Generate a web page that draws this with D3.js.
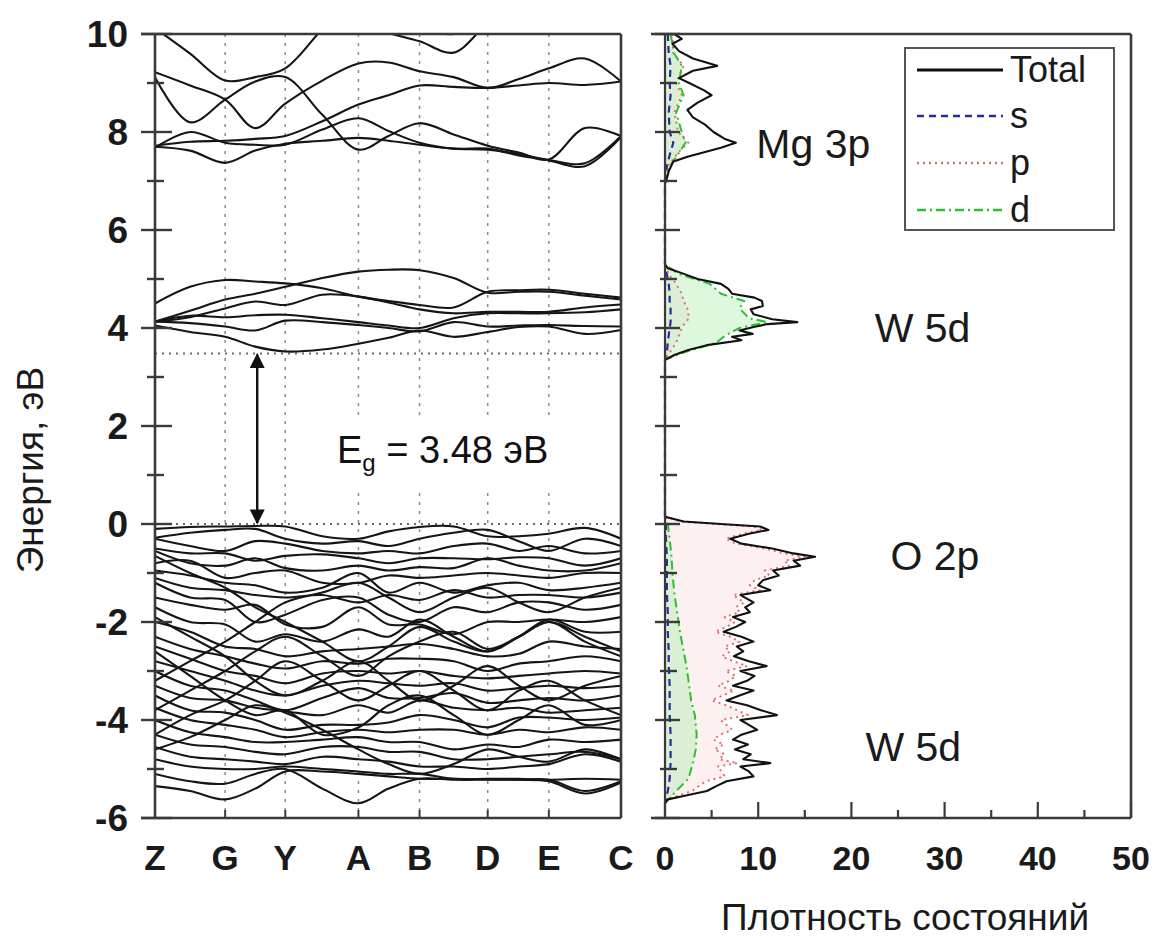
<!DOCTYPE html>
<html>
<head>
<meta charset="utf-8">
<script src="https://cdn.jsdelivr.net/npm/d3@7"></script>
<style>
  html, body { margin: 0; padding: 0; background: #fff; }
  svg { display: block; font-family: "Liberation Sans", Arial, sans-serif; }
</style>
</head>
<body>
<svg id="chart" width="1160" height="938"></svg>
<script>
// ---- k-path (band structure) ----
const kLabels = ["Z", "G", "Y", "A", "B", "D", "E", "C"];
const kLabelPos = [0, 70, 130, 203, 264, 332, 393, 465];
const kSamples = [0, 35, 70, 100, 130, 167, 203, 233, 264, 298, 332, 363, 393, 429, 465];

// Energies (eV) at kSamples
const upperConduction = [
  [7.70, 7.62, 7.37, 7.62, 7.76, 7.82, 7.88, 7.82, 7.74, 7.66, 7.64, 7.55, 7.42, 7.30, 7.90],
  [7.68, 8.00, 7.78, 7.74, 7.74, 8.05, 8.28, 8.02, 7.78, 7.66, 7.66, 7.52, 7.43, 7.36, 7.92],
  [7.72, 7.80, 7.82, 7.86, 7.92, 8.22, 8.56, 8.75, 8.95, 8.92, 8.90, 8.95, 9.00, 8.96, 9.03],
  [9.22, 8.95, 8.66, 8.08, 8.58, 9.05, 9.40, 9.42, 9.24, 9.12, 8.90, 9.08, 9.30, 9.50, 9.03],
  [9.12, 8.20, 8.66, 9.03, 9.12, 8.35, 7.64, 7.92, 8.18, 7.95, 7.72, 7.58, 7.44, 8.08, 7.92],
  [10.12, 9.60, 9.05, 9.12, 9.30, 10.10, 10.80, 10.90, 10.90, 10.80, 10.80, 10.80, 10.80, 10.80, 10.80],
  [10.60, 10.60, 10.50, 10.40, 10.30, 10.25, 10.20, 10.02, 9.85, 9.62, 10.20, 10.50, 10.60, 10.60, 10.60],
  [10.70, 10.70, 10.60, 10.50, 10.40, 10.30, 10.25, 10.04, 10.08, 10.00, 10.30, 10.60, 10.70, 10.70, 10.70]
];
const lowerConduction = [
  [4.05, 3.92, 3.82, 3.62, 3.52, 3.56, 3.68, 3.80, 3.95, 3.82, 3.92, 4.02, 4.03, 3.88, 3.96],
  [4.13, 4.10, 4.03, 3.95, 4.15, 4.12, 4.06, 4.00, 3.93, 4.12, 4.03, 4.05, 4.06, 4.04, 4.03],
  [4.13, 4.25, 4.22, 4.26, 4.27, 4.20, 4.12, 4.05, 4.00, 4.20, 4.30, 4.30, 4.30, 4.32, 4.38],
  [4.13, 4.22, 4.40, 4.54, 4.47, 4.68, 4.64, 4.52, 4.38, 4.30, 4.33, 4.33, 4.33, 4.42, 4.48],
  [4.50, 4.84, 4.98, 4.95, 4.91, 4.81, 4.64, 4.55, 4.47, 4.42, 4.74, 4.77, 4.78, 4.70, 4.62],
  [4.13, 4.35, 4.58, 4.70, 4.84, 5.02, 5.15, 5.19, 5.18, 5.02, 4.72, 4.74, 4.74, 4.66, 4.58]
];
const valence = [
  [-0.10, -0.06, -0.05, -0.04, -0.05, -0.25, -0.30, -0.15, -0.06, -0.05, -0.25, -0.25, -0.20, -0.08, -0.30],
  [-0.28, -0.18, -0.12, -0.10, -0.30, -0.40, -0.35, -0.45, -0.30, -0.18, -0.12, -0.35, -0.55, -0.30, -0.45],
  [-0.30, -0.45, -0.55, -0.35, -0.40, -0.55, -0.60, -0.55, -0.60, -0.45, -0.40, -0.55, -0.45, -0.60, -0.55],
  [-0.50, -0.60, -0.60, -0.75, -0.65, -0.62, -0.70, -0.80, -0.70, -0.70, -0.72, -0.68, -0.70, -0.85, -0.70],
  [-0.55, -0.80, -0.85, -0.70, -0.90, -0.95, -0.85, -0.95, -0.88, -0.90, -0.70, -0.85, -0.95, -0.95, -0.80],
  [-0.80, -0.75, -1.10, -1.00, -0.95, -1.20, -1.20, -1.05, -1.10, -1.05, -1.00, -1.05, -1.10, -1.00, -1.00],
  [-0.95, -1.05, -1.20, -1.25, -1.40, -1.30, -1.00, -1.40, -1.20, -1.40, -1.25, -1.20, -1.35, -1.30, -1.20],
  [-1.10, -1.30, -1.35, -1.45, -1.50, -1.45, -1.60, -1.45, -1.55, -1.35, -1.50, -1.45, -1.45, -1.50, -1.40],
  [-1.20, -1.50, -1.55, -2.00, -1.85, -1.55, -1.50, -1.85, -2.00, -1.70, -1.80, -1.60, -1.60, -1.75, -1.65],
  [-1.50, -1.65, -1.75, -1.65, -2.05, -2.10, -1.70, -2.05, -2.05, -2.25, -2.00, -2.00, -1.95, -2.00, -1.90],
  [-1.70, -2.00, -2.05, -2.40, -2.25, -2.40, -2.15, -2.30, -1.95, -2.30, -2.60, -2.30, -1.95, -2.20, -2.20],
  [-2.00, -2.20, -2.50, -2.55, -2.70, -2.60, -2.55, -2.50, -2.45, -2.55, -2.70, -2.65, -2.40, -2.50, -2.55],
  [-2.30, -2.55, -2.70, -2.85, -2.95, -2.80, -2.85, -2.75, -2.75, -2.80, -3.00, -2.85, -2.80, -2.70, -2.80],
  [-2.50, -2.75, -3.00, -3.10, -3.25, -3.05, -3.00, -3.05, -3.00, -3.10, -3.15, -3.10, -3.05, -3.00, -3.05],
  [-2.80, -3.00, -3.20, -3.40, -3.50, -3.30, -3.20, -3.25, -3.30, -3.25, -3.40, -3.35, -3.30, -3.35, -3.30],
  [-3.00, -3.30, -3.40, -3.60, -3.80, -3.55, -3.35, -3.55, -3.55, -3.45, -3.65, -3.60, -3.55, -3.60, -3.50],
  [-3.30, -3.55, -3.60, -3.75, -3.82, -3.90, -3.70, -3.85, -3.60, -3.75, -3.80, -3.75, -3.85, -3.80, -3.75],
  [-3.50, -3.80, -3.85, -4.00, -4.20, -4.10, -4.10, -4.05, -3.90, -4.00, -4.15, -3.95, -3.95, -4.00, -3.95],
  [-3.75, -4.00, -4.10, -4.20, -4.35, -4.25, -4.20, -4.25, -4.20, -4.20, -4.30, -4.20, -4.25, -4.15, -4.20],
  [-4.00, -4.25, -4.35, -4.45, -4.45, -4.40, -4.35, -4.45, -4.45, -4.60, -4.50, -4.55, -4.40, -4.45, -4.40],
  [-4.30, -4.50, -4.55, -4.65, -4.70, -4.55, -4.55, -4.65, -4.65, -4.80, -4.80, -4.75, -4.70, -4.65, -4.80],
  [-4.55, -4.75, -4.80, -4.85, -4.90, -4.75, -4.80, -4.85, -4.95, -4.95, -5.00, -4.95, -4.90, -4.70, -4.85],
  [-4.80, -4.95, -5.00, -5.00, -4.95, -5.00, -5.05, -5.10, -5.10, -5.20, -5.20, -5.20, -5.22, -5.20, -5.22],
  [-5.10, -5.25, -5.30, -5.10, -5.00, -5.40, -5.70, -5.40, -5.20, -5.22, -5.22, -5.22, -5.22, -5.45, -5.25],
  [-5.35, -5.45, -5.62, -5.40, -5.05, -5.05, -5.10, -5.15, -5.20, -5.20, -5.21, -5.22, -5.25, -5.50, -5.28],
  [-0.65, -1.00, -1.30, -1.70, -2.00, -2.40, -2.80, -2.50, -2.10, -2.40, -2.60, -2.30, -2.00, -2.40, -2.70],
  [-3.20, -2.80, -2.40, -2.00, -1.60, -1.40, -1.20, -1.50, -1.80, -1.50, -1.30, -1.60, -1.80, -1.50, -1.30],
  [-4.30, -3.90, -3.60, -3.20, -2.80, -3.20, -3.60, -3.30, -3.00, -3.40, -3.80, -3.40, -3.20, -3.60, -3.90],
  [-2.60, -3.10, -3.60, -3.90, -3.80, -4.30, -4.15, -3.70, -3.50, -3.90, -4.30, -4.00, -3.70, -4.10, -4.00],
  [-1.90, -2.30, -2.70, -3.20, -3.50, -3.20, -2.80, -3.20, -3.60, -3.30, -2.90, -3.30, -3.60, -3.30, -3.10],
  [-3.80, -3.40, -3.00, -2.60, -2.30, -2.70, -3.10, -2.70, -2.40, -2.20, -2.55, -2.30, -2.00, -2.30, -2.60],
  [-4.60, -4.35, -4.00, -3.70, -3.85, -4.20, -4.60, -4.90, -5.10, -4.90, -4.60, -4.75, -4.85, -4.60, -4.80]
];

const gapBottom = 0;
const gapTop = 3.48;

// ---- density of states ----
const dosEnergy = [10.0, 9.9, 9.8, 9.65, 9.5, 9.35, 9.25, 9.1, 9.0, 8.85, 8.75, 8.6, 8.45, 8.3, 8.15, 8.0, 7.85, 7.78, 7.68, 7.6, 7.5, 7.4, 7.2, 7.05, 6.95,
  5.3, 5.22, 5.12, 5.0, 4.9, 4.8, 4.7, 4.62, 4.55, 4.45, 4.38, 4.28, 4.18, 4.12, 4.08, 4.02, 3.95, 3.88, 3.82, 3.75, 3.65, 3.55, 3.45, 3.35,
  0.15, 0.05, 0.0, -0.05, -0.12, -0.2, -0.3, -0.4, -0.5, -0.6, -0.67, -0.75, -0.85, -0.95, -1.05, -1.15, -1.25, -1.35, -1.45, -1.6, -1.7, -1.8, -1.9, -2.0,
  -2.1, -2.2, -2.3, -2.4, -2.5, -2.6, -2.7, -2.8, -2.9, -3.0, -3.1, -3.2, -3.3, -3.4, -3.5, -3.6, -3.7, -3.8, -3.9, -4.0, -4.1, -4.2, -4.3, -4.4, -4.5,
  -4.6, -4.7, -4.8, -4.88, -4.95, -5.05, -5.15, -5.25, -5.35, -5.45, -5.55, -5.62, -5.7];
const dosTotal = [1.0, 1.8, 0.8, 1.5, 3.0, 5.6, 3.0, 1.5, 2.6, 4.2, 5.0, 3.5, 2.4, 3.0, 4.3, 5.2, 6.5, 7.6, 6.0, 4.5, 2.5, 0.9, 0.4, 0.2, 0,
  0, 0.3, 1.8, 3.5, 6.0, 6.8, 7.2, 9.6, 10.4, 10.5, 9.2, 9.5, 11.5, 14.2, 11.0, 9.5, 8.0, 9.4, 7.2, 8.2, 4.5, 2.5, 1.0, 0,
  0, 2.0, 6.0, 10.2, 11.1, 9.0, 7.0, 8.2, 11.5, 13.8, 16.1, 13.8, 14.5, 11.6, 12.2, 10.5, 10.0, 11.3, 8.1, 9.5, 8.6, 9.1, 7.3, 8.6,
  7.6, 6.3, 8.2, 9.5, 7.7, 8.4, 7.4, 9.0, 10.9, 8.1, 9.6, 8.8, 7.3, 9.5, 8.0, 6.6, 8.8, 10.3, 12.0, 8.1, 9.0, 9.9, 8.2, 7.3, 8.9,
  7.5, 9.2, 8.4, 11.3, 8.1, 9.0, 9.5, 6.6, 5.5, 4.5, 2.0, 0.3, 0];

// p-states: coarse in the conduction bands, fine in the O 2p valence band
const pEnergy = [10.0, 9.6, 9.35, 9.0, 8.75, 8.4, 8.0, 7.78, 7.6, 7.3, 6.95, 5.3, 5.1, 4.9, 4.7, 4.55, 4.4, 4.2, 4.12, 4.0, 3.85, 3.7, 3.5, 3.35,
  0.15, 0.05, 0.0, -0.05, -0.12, -0.2, -0.3, -0.4, -0.5, -0.6, -0.67, -0.75, -0.85, -0.95, -1.05, -1.15, -1.25, -1.35, -1.45, -1.6, -1.7, -1.8, -1.9, -2.0,
  -2.1, -2.2, -2.3, -2.4, -2.5, -2.6, -2.7, -2.8, -2.9, -3.0, -3.1, -3.2, -3.3, -3.4, -3.5, -3.6, -3.7, -3.8, -3.9, -4.0, -4.1, -4.2, -4.3, -4.4, -4.5,
  -4.6, -4.7, -4.8, -4.88, -4.95, -5.05, -5.15, -5.25, -5.35, -5.45, -5.55, -5.62, -5.7];
const dosP = [0.8, 0.9, 2.0, 1.2, 1.8, 1.0, 1.4, 2.5, 1.5, 0.3, 0, 0, 0.4, 1.2, 1.8, 2.0, 2.4, 2.6, 2.2, 1.8, 1.5, 1.2, 0.5, 0,
  0, 1.8, 5.5, 9.5, 10.4, 8.4, 6.5, 7.6, 10.7, 12.8, 15.0, 12.8, 13.4, 10.7, 11.2, 9.6, 9.1, 10.2, 7.3, 8.5, 7.6, 8.0, 6.4, 7.5,
  6.6, 5.4, 7.0, 8.0, 6.4, 7.0, 6.1, 7.3, 8.8, 6.5, 7.6, 6.9, 5.7, 7.4, 6.2, 5.0, 6.6, 7.7, 8.9, 6.0, 6.6, 7.2, 5.9, 5.2, 6.3,
  5.3, 6.4, 5.8, 7.8, 5.6, 6.1, 6.4, 4.4, 3.6, 2.9, 1.3, 0.2, 0];

const sdEnergy = [10.0, 9.6, 9.35, 9.0, 8.75, 8.4, 8.0, 7.78, 7.6, 7.3, 6.95, 5.3, 5.1, 4.9, 4.7, 4.55, 4.4, 4.2, 4.12, 4.0, 3.85, 3.7, 3.5, 3.35,
  0.15, 0.0, -0.3, -0.67, -1.0, -1.4, -1.8, -2.2, -2.6, -2.9, -3.3, -3.6, -3.9, -4.3, -4.6, -4.88, -5.2, -5.45, -5.7];
const dosS = [0.3, 0.4, 0.6, 0.5, 0.6, 0.4, 0.5, 0.9, 0.6, 0.2, 0, 0, 0.2, 0.4, 0.5, 0.5, 0.6, 0.6, 0.6, 0.5, 0.4, 0.3, 0.2, 0,
  0, 0.1, 0.1, 0.2, 0.2, 0.2, 0.3, 0.3, 0.4, 0.4, 0.5, 0.5, 0.5, 0.6, 0.6, 0.6, 0.5, 0.3, 0];
const dosD = [0.6, 1.0, 1.8, 1.5, 2.0, 1.2, 1.8, 2.2, 1.6, 0.5, 0, 0, 1.5, 4.8, 6.0, 8.5, 8.0, 9.0, 11.0, 8.0, 6.5, 5.5, 2.0, 0,
  0, 0.3, 0.5, 0.7, 0.8, 1.0, 1.3, 1.6, 2.0, 2.3, 2.6, 2.8, 3.2, 3.4, 3.3, 3.0, 2.5, 1.2, 0];

const energyTicks = [-6, -4, -2, 0, 2, 4, 6, 8, 10];
const energyMinorTicks = [-5, -3, -1, 1, 3, 5, 7, 9];
const dosTicks = [0, 10, 20, 30, 40, 50];
const dosMinorTicks = [5, 15, 25, 35, 45];

const peakLabels = [
  { text: "Mg 3p", e: 7.75, v: 9.8 },
  { text: "W 5d", e: 4.0, v: 22.5 },
  { text: "O 2p", e: -0.65, v: 24.2 },
  { text: "W 5d", e: -4.55, v: 21.5 }
];
const legendItems = [
  { name: "Total", key: "total" },
  { name: "s", key: "s" },
  { name: "p", key: "p" },
  { name: "d", key: "d" }
];

// ---- layout ----
const svg = d3.select("#chart");
const plotTop = 34, plotBottom = 818;
const bandLeft = 155, bandRight = 621;
const dosLeft = 665, dosRight = 1131;

const yE = d3.scaleLinear().domain([-6, 10]).range([plotBottom, plotTop]);
const xK = d3.scaleLinear().domain([0, 465]).range([bandLeft, bandRight]);
const xD = d3.scaleLinear().domain([0, 50]).range([dosLeft, dosRight]);

const frameColor = "#3a3a3a";
const textColor = "#1a1a1a";
const styles = {
  total: { color: "#111", dash: null, width: 2.1 },
  s: { color: "#2a2aa0", dash: "7,5", width: 2.2 },
  p: { color: "#e07070", dash: "2,4", width: 2 },
  d: { color: "#2fbf2f", dash: "9,4,2,4", width: 2 }
};

const defs = svg.append("defs");
defs.append("clipPath").attr("id", "bandClip")
  .append("rect").attr("x", bandLeft).attr("y", plotTop).attr("width", bandRight - bandLeft).attr("height", plotBottom - plotTop);
defs.append("clipPath").attr("id", "dosClip")
  .append("rect").attr("x", dosLeft - 2).attr("y", plotTop).attr("width", dosRight - dosLeft + 2).attr("height", plotBottom - plotTop);
defs.append("marker").attr("id", "arrowHead")
  .attr("viewBox", "0 0 10 10").attr("refX", 9).attr("refY", 5)
  .attr("markerWidth", 22).attr("markerHeight", 15).attr("markerUnits", "userSpaceOnUse")
  .attr("orient", "auto-start-reverse")
  .append("path").attr("d", "M0,0 L10,5 L0,10 Z").attr("fill", "#111");

// ---- band panel ----
const bandG = svg.append("g");

// high-symmetry verticals
bandG.selectAll("line.kline")
  .data(kLabelPos.slice(1, -1))
  .join("line")
  .attr("x1", d => xK(d)).attr("x2", d => xK(d))
  .attr("y1", plotTop).attr("y2", plotBottom)
  .attr("stroke", "#8a8a8a").attr("stroke-width", 1.5).attr("stroke-dasharray", "3,6");

// gap reference lines
bandG.selectAll("line.gapline")
  .data([gapBottom, gapTop])
  .join("line")
  .attr("x1", bandLeft).attr("x2", bandRight)
  .attr("y1", d => yE(d)).attr("y2", d => yE(d))
  .attr("stroke", "#6a6a6a").attr("stroke-width", 1.8).attr("stroke-dasharray", "2,5");

const bandLine = d3.line()
  .x((d, i) => xK(kSamples[i]))
  .y(d => yE(d))
  .curve(d3.curveCatmullRom.alpha(0.5));

const bandsG = bandG.append("g").attr("clip-path", "url(#bandClip)");
bandsG.selectAll("path.band")
  .data([...upperConduction, ...lowerConduction, ...valence])
  .join("path")
  .attr("d", bandLine)
  .attr("fill", "none")
  .attr("stroke", "#151515")
  .attr("stroke-width", 2.1)
  .attr("stroke-linejoin", "round");

// gap label with white backing
const gapLabel = bandG.append("text")
  .attr("x", 337).attr("y", yE(1.25))
  .attr("font-size", 38).attr("fill", "#111");
gapLabel.append("tspan").text("E");
gapLabel.append("tspan").attr("font-size", 24).attr("dy", 8).text("g");
gapLabel.append("tspan").attr("dy", -8).text(" = 3.48 эВ");
const gb = gapLabel.node().getBBox();
bandG.insert("rect", "text")
  .attr("x", gb.x - 4).attr("y", gb.y - 12).attr("width", gb.width + 10).attr("height", gb.height + 26)
  .attr("fill", "#fff");

// gap arrow
bandG.append("line")
  .attr("x1", xK(102)).attr("x2", xK(102))
  .attr("y1", yE(gapTop) + 1).attr("y2", yE(gapBottom) - 1)
  .attr("stroke", "#111").attr("stroke-width", 2.4)
  .attr("marker-start", "url(#arrowHead)").attr("marker-end", "url(#arrowHead)");

// frame of band panel
bandG.append("line").attr("x1", 141).attr("x2", bandRight).attr("y1", plotTop).attr("y2", plotTop)
  .attr("stroke", frameColor).attr("stroke-width", 2.6);
bandG.append("line").attr("x1", 141).attr("x2", bandRight).attr("y1", plotBottom).attr("y2", plotBottom)
  .attr("stroke", frameColor).attr("stroke-width", 2.6);
bandG.append("line").attr("x1", bandLeft).attr("x2", bandLeft).attr("y1", plotTop).attr("y2", plotBottom)
  .attr("stroke", frameColor).attr("stroke-width", 2.6);
bandG.append("line").attr("x1", bandRight).attr("x2", bandRight).attr("y1", plotTop).attr("y2", plotBottom)
  .attr("stroke", frameColor).attr("stroke-width", 2.6);

// energy ticks on a vertical axis line
function energyTicksAt(g, x0, majorL, majorR, minorL, minorR) {
  g.selectAll(null).data(energyTicks).join("line")
    .attr("x1", x0 - majorL).attr("x2", x0 + majorR)
    .attr("y1", d => yE(d)).attr("y2", d => yE(d))
    .attr("stroke", frameColor).attr("stroke-width", 2.4);
  g.selectAll(null).data(energyMinorTicks).join("line")
    .attr("x1", x0 - minorL).attr("x2", x0 + minorR)
    .attr("y1", d => yE(d)).attr("y2", d => yE(d))
    .attr("stroke", frameColor).attr("stroke-width", 2.4);
}
energyTicksAt(bandG, bandLeft, 14, 17, 8, 9);

bandG.selectAll("text.ytick")
  .data(energyTicks)
  .join("text")
  .attr("x", 128).attr("y", d => yE(d) + 13)
  .attr("text-anchor", "end")
  .attr("font-size", 37).attr("font-weight", "bold").attr("fill", textColor)
  .text(d => d);

// k ticks and labels
bandG.selectAll("line.ktick")
  .data(kLabelPos)
  .join("line")
  .attr("x1", d => xK(d)).attr("x2", d => xK(d))
  .attr("y1", plotBottom).attr("y2", plotBottom - 8)
  .attr("stroke", frameColor).attr("stroke-width", 2);
bandG.selectAll("text.klabel")
  .data(kLabels)
  .join("text")
  .attr("x", (d, i) => xK(kLabelPos[i]))
  .attr("y", 870)
  .attr("text-anchor", "middle")
  .attr("font-size", 35).attr("font-weight", "bold").attr("fill", textColor)
  .text(d => d);

// axis title
svg.append("text")
  .attr("transform", `translate(43, ${yE(1.1)}) rotate(-90)`)
  .attr("text-anchor", "middle")
  .attr("font-size", 37).attr("fill", textColor)
  .text("Энергия, эВ");

// ---- DOS panel ----
const dosG = svg.append("g");
const dosPlot = dosG.append("g").attr("clip-path", "url(#dosClip)");

const zipDos = (es, vs) => es.map((e, i) => ({ e, v: vs[i] }));
const dosLine = d3.line().x(d => xD(d.v)).y(d => yE(d.e)).curve(d3.curveLinear);
const dosArea = d3.area().y(d => yE(d.e)).x0(xD(0)).x1(d => xD(d.v)).curve(d3.curveLinear);

const series = {
  total: zipDos(dosEnergy, dosTotal),
  s: zipDos(sdEnergy, dosS),
  p: zipDos(pEnergy, dosP),
  d: zipDos(sdEnergy, dosD)
};

// faint tint under partial curves
dosPlot.append("path").datum(series.p).attr("d", dosArea).attr("fill", "#f6d3d3").attr("opacity", 0.35);
dosPlot.append("path").datum(series.d).attr("d", dosArea).attr("fill", "#aaeeaa").attr("opacity", 0.4);

["s", "p", "d", "total"].forEach(k => {
  const st = styles[k];
  dosPlot.append("path").datum(series[k])
    .attr("d", dosLine)
    .attr("fill", "none")
    .attr("stroke", st.color)
    .attr("stroke-width", st.width)
    .attr("stroke-dasharray", st.dash)
    .attr("stroke-linejoin", "round");
});

// frame of DOS panel
dosG.append("line").attr("x1", 651).attr("x2", dosRight).attr("y1", plotTop).attr("y2", plotTop)
  .attr("stroke", frameColor).attr("stroke-width", 2.6);
dosG.append("line").attr("x1", 651).attr("x2", dosRight).attr("y1", plotBottom).attr("y2", plotBottom)
  .attr("stroke", frameColor).attr("stroke-width", 2.6);
dosG.append("line").attr("x1", dosLeft).attr("x2", dosLeft).attr("y1", plotTop).attr("y2", plotBottom)
  .attr("stroke", frameColor).attr("stroke-width", 2.2);
dosG.append("line").attr("x1", dosRight).attr("x2", dosRight).attr("y1", plotTop).attr("y2", plotBottom)
  .attr("stroke", frameColor).attr("stroke-width", 2.6);
energyTicksAt(dosG, dosLeft, 10, 15, 5, 12);

dosG.selectAll("line.dtick")
  .data(dosTicks).join("line")
  .attr("x1", d => xD(d)).attr("x2", d => xD(d))
  .attr("y1", plotBottom).attr("y2", plotBottom - 16)
  .attr("stroke", frameColor).attr("stroke-width", 2.2);
dosG.selectAll("line.dminor")
  .data(dosMinorTicks).join("line")
  .attr("x1", d => xD(d)).attr("x2", d => xD(d))
  .attr("y1", plotBottom).attr("y2", plotBottom - 8)
  .attr("stroke", frameColor).attr("stroke-width", 2.2);
dosG.selectAll("text.dlabel")
  .data(dosTicks).join("text")
  .attr("x", d => xD(d)).attr("y", 870)
  .attr("text-anchor", "middle")
  .attr("font-size", 34).attr("font-weight", "bold").attr("fill", textColor)
  .text(d => d);

svg.append("text")
  .attr("x", 905).attr("y", 930)
  .attr("text-anchor", "middle")
  .attr("font-size", 37).attr("fill", textColor)
  .text("Плотность состояний");

// peak annotations
dosG.selectAll("text.peak")
  .data(peakLabels).join("text")
  .attr("x", d => xD(d.v)).attr("y", d => yE(d.e) + 14)
  .attr("font-size", 41).attr("fill", textColor)
  .text(d => d.text);

// legend
const lg = dosG.append("g");
lg.append("rect").attr("x", 905).attr("y", 48).attr("width", 209).attr("height", 182)
  .attr("fill", "#fff").attr("stroke", "#555").attr("stroke-width", 2);
const legendY = [70, 116, 163, 210];
legendItems.forEach((it, i) => {
  const st = styles[it.key];
  lg.append("line").attr("x1", 917).attr("x2", 1003).attr("y1", legendY[i]).attr("y2", legendY[i])
    .attr("stroke", st.color).attr("stroke-width", it.key === "total" ? 2.8 : 2.4)
    .attr("stroke-dasharray", st.dash);
  lg.append("text").attr("x", 1010).attr("y", legendY[i] + 12)
    .attr("font-size", 36).attr("fill", textColor).text(it.name);
});
</script>
</body>
</html>
